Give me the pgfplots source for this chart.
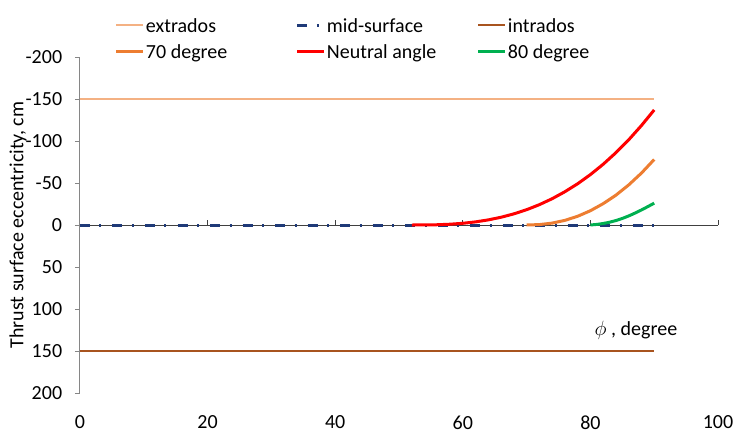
\documentclass[border=0pt]{standalone}
\usepackage{fontspec}
\setmainfont{Carlito}
\usepackage{pgfplots}
\pgfplotsset{compat=1.18}
\definecolor{extr}{HTML}{F4B183}
\definecolor{intr}{HTML}{A8541F}
\definecolor{midc}{HTML}{1F3A78}
\definecolor{c70}{HTML}{ED7D31}
\definecolor{neut}{HTML}{FF0000}
\definecolor{c80}{HTML}{00B050}
\definecolor{axg}{HTML}{868686}
\newcommand{\fs}{\fontsize{20bp}{24bp}\selectfont}
\newcommand{\legtxt}[1]{\makebox[151bp][l]{\hspace{1bp}#1\strut}}
\begin{document}
\fs
\begin{tikzpicture}[font=\fs]
\begin{axis}[
  at={(0,0)}, anchor=south west,
  scale only axis, width=638bp, height=336bp,
  xmin=0, xmax=100, ymin=-200, ymax=200, y dir=reverse,
  axis y line*=left, axis x line*=bottom,
  x axis line style={draw=none},
  y axis line style={draw=axg, line width=1bp},
  xtick={0,20,40,60,80,100}, xticklabels={0,20,40,60,80,100},
  ytick={-200,-150,-100,-50,0,50,100,150,200},
  yticklabels={-200,-150,-100,-50,0,50,100,150,200},
  tick align=outside,
  xtick style={draw=none},
  ytick style={draw=axg, line width=1bp},
  major tick length=5bp,
  xticklabel style={font=\fs, yshift=-11bp},
  yticklabel style={font=\fs, xshift=-6bp},
  clip=false,
  legend columns=3,
  legend cell align=left,
  legend image code/.code={\draw[#1] (0bp,0bp) -- (27bp,0bp);},
  legend style={draw=none, fill=none, inner sep=0pt, outer sep=0pt,
    column sep=0pt, row sep=6bp, font=\fs,
    nodes={inner sep=0pt, outer sep=0pt},
    at={(axis cs:0,-200)}, anchor=south west, xshift=35bp, yshift=-4bp},
]
\draw[black!75, line width=1bp] (axis cs:0,0) -- (axis cs:100,0);
\pgfplotsinvokeforeach{20,40,60,80,100}{\draw[black!75, line width=1bp] (axis cs:#1,0) -- ([yshift=5bp]axis cs:#1,0);}
\addplot[extr, line width=2.25bp] coordinates {(0,-150) (90,-150)};
\addlegendentry{\legtxt{extrados}}
\addplot[midc, line width=3bp, dash pattern=on 10bp off 9.5bp on 2bp off 11bp] coordinates {(0,0) (90,0)};
\addlegendentry{\legtxt{mid-surface}}
\addplot[intr, line width=2.25bp] coordinates {(0,150) (90,150)};
\addlegendentry{\legtxt{intrados}}
\addplot[c70, line width=3bp] coordinates {
(70,0) (72,-0.49) (74,-2.26) (76,-5.52) (78,-10.4) (80,-17.0) (82,-25.4)
(84,-35.5) (86,-47.7) (88,-61.8) (90,-78)};
\addlegendentry{\legtxt{70 degree}}
\addplot[neut, line width=3bp] coordinates {
(52,0) (54,-0.05) (56,-0.31) (58,-0.94) (60,-2.04) (62,-3.72) (64,-6.09)
(66,-9.24) (68,-13.25) (70,-18.2) (72,-24.2) (74,-31.3) (76,-39.6)
(78,-49.1) (80,-60.0) (82,-72.3) (84,-86.1) (86,-101.4) (88,-118.4) (90,-137)};
\addlegendentry{\legtxt{Neutral angle}}
\addplot[c80, line width=3bp] coordinates {
(80,0) (81,-0.7) (82,-1.8) (83,-3.3) (84,-5.3) (85,-7.8) (86,-10.8)
(87,-14.2) (88,-17.9) (89,-21.9) (90,-26)};
\addlegendentry{\legtxt{80 degree}}
\node[rotate=90, anchor=center] at ([xshift=-62bp]axis cs:0,0) {Thrust surface eccentricity, cm};
\node[anchor=base west] at (axis cs:79.6,131) {$\phi$ , degree};
\end{axis}
\pgfresetboundingbox
\path[use as bounding box] (-80bp,-43bp) rectangle (657bp,393bp);
\end{tikzpicture}
\end{document}
